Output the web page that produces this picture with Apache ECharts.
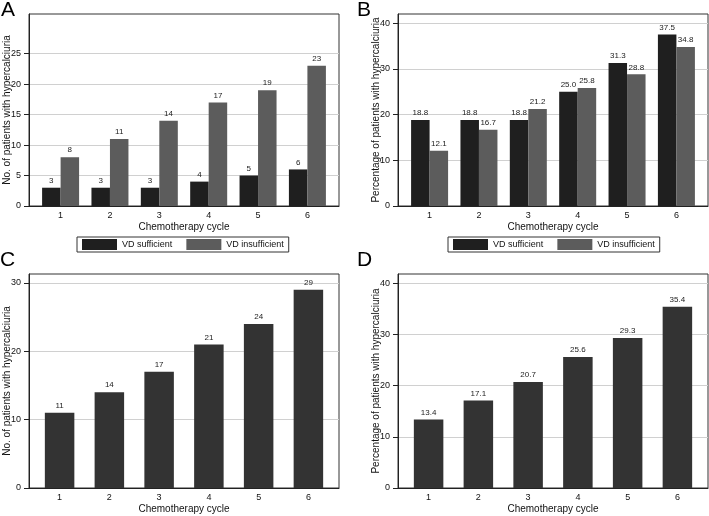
<!DOCTYPE html>
<html><head><meta charset="utf-8">
<script src="https://cdn.jsdelivr.net/npm/echarts@6/dist/echarts.min.js"></script>
<style>html,body{margin:0;padding:0;background:#fff}#c{width:709px;height:516px}</style>
</head><body><div id="c"></div>
<script>
const cycles = [1, 2, 3, 4, 5, 6];
const countSufficient = [3, 3, 3, 4, 5, 6];
const countInsufficient = [8, 11, 14, 17, 19, 23];
const pctSufficient = [18.8, 18.8, 18.8, 25.0, 31.3, 37.5];
const pctInsufficient = [12.1, 16.7, 21.2, 25.8, 28.8, 34.8];
const countTotal = [11, 14, 17, 21, 24, 29];
const pctTotal = [13.4, 17.1, 20.7, 25.6, 29.3, 35.4];
const yTicksA = [0, 5, 10, 15, 20, 25];
const yTicksB = [0, 10, 20, 30, 40];
const yTicksC = [0, 10, 20, 30];
const yTicksD = [0, 10, 20, 30, 40];
const panelLetters = ['A', 'B', 'C', 'D'];
const seriesNames = ['VD sufficient', 'VD insufficient'];
const xTitle = 'Chemotherapy cycle';
const yTitleCount = 'No. of patients with hypercalciuria';
const yTitlePct = 'Percentage of patients with hypercalciuria';

const FONT = '"Liberation Sans", Arial, Helvetica, sans-serif';
const DARK = '#1f1f1f';
const GRAY = '#5c5c5c';

function xAx(gi, min, max) {
  return {
    type: 'value', gridIndex: gi, min: min, max: max,
    name: xTitle, nameLocation: 'middle', nameGap: 16, nameMoveOverlap: false,
    nameTextStyle: { fontSize: 10, color: '#111', fontFamily: FONT },
    axisLine: { show: true, onZero: false, lineStyle: { color: '#222', width: 1 } },
    axisTick: { show: false },
    splitLine: { show: false },
    axisLabel: { customValues: cycles, fontSize: 9, color: '#111', margin: 5, fontFamily: FONT }
  };
}
function yAx(gi, max, ticks, name, gap) {
  return {
    type: 'value', gridIndex: gi, min: 0, max: max, interval: ticks[1] - ticks[0],
    name: name, nameLocation: 'middle', nameGap: gap, nameMoveOverlap: false,
    nameTextStyle: { fontSize: 10, color: '#111', fontFamily: FONT },
    axisLine: { show: true, lineStyle: { color: '#222', width: 1 } },
    axisTick: { show: true, length: 5, customValues: ticks, lineStyle: { color: '#222' } },
    axisLabel: { customValues: ticks, fontSize: 9, color: '#111', margin: 8, fontFamily: FONT },
    splitLine: { show: true, lineStyle: { color: '#d0d0d0', width: 1 } }
  };
}
function lbl(dec) {
  return {
    show: true, position: 'top', distance: 3, fontSize: 8, color: '#222', fontFamily: FONT,
    formatter: p => dec ? Number(p.value[1]).toFixed(1) : String(p.value[1])
  };
}
function pairs(vals) { return cycles.map((c, i) => [c, vals[i]]); }
function legendAt(left) {
  return {
    left: left, top: 237, orient: 'horizontal', data: seriesNames, selectedMode: false,
    icon: 'rect', itemWidth: 35, itemHeight: 11, itemGap: 14,
    borderColor: '#333', borderWidth: 1, borderRadius: 0, padding: [2, 5, 2, 5],
    textStyle: { fontSize: 9, color: '#111', fontFamily: FONT }
  };
}
function gridAt(left, top, height) {
  return { left: left, top: top, width: 310, height: height, show: true, borderColor: '#333', borderWidth: 1,
           containLabel: false, outerBoundsMode: 'none' };
}
const letterPos = [[1, 0], [357, 0], [0, 250], [357, 250]];

const option = {
  animation: false,
  backgroundColor: '#fff',
  textStyle: { fontFamily: FONT },
  title: panelLetters.map((t, i) => ({
    text: t, left: letterPos[i][0], top: letterPos[i][1], padding: 0,
    textStyle: { fontSize: 21, fontWeight: 'normal', color: '#000', fontFamily: FONT }
  })),
  legend: [legendAt(77), legendAt(448)],
  grid: [gridAt(29, 14, 192), gridAt(398, 14, 192), gridAt(29, 274, 214), gridAt(398, 274, 214)],
  xAxis: [xAx(0, 0.36, 6.64), xAx(1, 0.36, 6.64), xAx(2, 0.385, 6.615), xAx(3, 0.385, 6.615)],
  yAxis: [yAx(0, 31.5, yTicksA, yTitleCount, 17), yAx(1, 42, yTicksB, yTitlePct, 17),
          yAx(2, 31.3, yTicksC, yTitleCount, 17), yAx(3, 41.8, yTicksD, yTitlePct, 17)],
  series: [
    { type: 'bar', name: seriesNames[0], xAxisIndex: 0, yAxisIndex: 0, data: pairs(countSufficient),
      barWidth: 18.5, barGap: '0%', itemStyle: { color: DARK }, label: lbl(false) },
    { type: 'bar', name: seriesNames[1], xAxisIndex: 0, yAxisIndex: 0, data: pairs(countInsufficient),
      barWidth: 18.5, barGap: '0%', itemStyle: { color: GRAY }, label: lbl(false) },
    { type: 'bar', name: seriesNames[0], xAxisIndex: 1, yAxisIndex: 1, data: pairs(pctSufficient),
      barWidth: 18.5, barGap: '0%', itemStyle: { color: DARK }, label: lbl(true) },
    { type: 'bar', name: seriesNames[1], xAxisIndex: 1, yAxisIndex: 1, data: pairs(pctInsufficient),
      barWidth: 18.5, barGap: '0%', itemStyle: { color: GRAY }, label: lbl(true) },
    { type: 'bar', name: 'Total count', xAxisIndex: 2, yAxisIndex: 2, data: pairs(countTotal),
      barWidth: 29.5, itemStyle: { color: '#333333' }, label: lbl(false) },
    { type: 'bar', name: 'Total percentage', xAxisIndex: 3, yAxisIndex: 3, data: pairs(pctTotal),
      barWidth: 29.5, itemStyle: { color: '#333333' }, label: lbl(true) }
  ]
};
const chart = echarts.init(document.getElementById('c'), null, { renderer: 'canvas' });
chart.setOption(option);
</script>
</body></html>
